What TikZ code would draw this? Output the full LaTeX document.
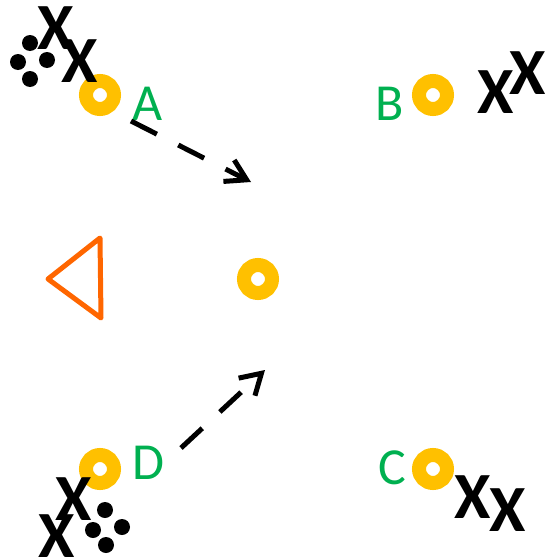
\documentclass[tikz,border=0pt]{standalone}
\usepackage{fontspec}
\setmainfont{Carlito}
\usepackage{tikz}
\usetikzlibrary{arrows.meta}
\usepackage{xcolor}
\definecolor{ringyellow}{RGB}{255,192,0}
\definecolor{labelgreen}{RGB}{0,176,80}
\definecolor{markorange}{RGB}{255,102,0}
\begin{document}
\begin{tikzpicture}[
    x=1pt, y=-1pt,
    ring/.style={circle, draw=ringyellow, line width=14pt, minimum size=28pt,
                 inner sep=0pt},
    lbl/.style={inner sep=0pt, text=labelgreen, font=\fontsize{52}{52}\selectfont},
    cross/.style={inner sep=0pt, font=\bfseries\fontsize{66}{66}\selectfont},
    dot/.style={circle, fill=black, minimum size=16pt, inner sep=0pt},
    arr/.style={-{Straight Barb[length=20pt, width=24pt, line width=5pt]},
                line width=5pt, dash pattern=on 29pt off 24pt}
]
\useasboundingbox (0,0) rectangle (544,557);
\node[ring] (A) at (100,95) {};
\node[ring] (B) at (433,95) {};
\node[ring] (C) at (433,469) {};
\node[ring] (D) at (100,469) {};
\node[ring] (O) at (258,279) {};
\node[lbl] (labA) at (148,104) {A};
\node[lbl] (labB) at (390,104) {B};
\node[lbl] (labC) at (392,468) {C};
\node[lbl] (labD) at (148,463) {D};
\node[cross] (xA1) at (56,28) {X};
\node[cross] (xA2) at (80,61) {X};
\node[cross] (xB1) at (496,92) {X};
\node[cross] (xB2) at (528,73) {X};
\node[cross] (xC1) at (473,497) {X};
\node[cross] (xC2) at (508,510) {X};
\node[cross] (xD1) at (74,499) {X};
\node[cross] (xD2) at (57,536) {X};
\node[dot] (dA1) at (30,43) {};
\node[dot] (dA2) at (18,62) {};
\node[dot] (dA3) at (47,60) {};
\node[dot] (dA4) at (30,79) {};
\node[dot] (dD1) at (105,510) {};
\node[dot] (dD2) at (93,530) {};
\node[dot] (dD3) at (122,527) {};
\node[dot] (dD4) at (106,545) {};
\draw[markorange, line width=5pt, line join=round]
    (100,238) -- (48,279) -- (101,318) -- cycle;
\coordinate (a1) at (131,121);
\coordinate (a2) at (251,182);
\coordinate (d1) at (181,448);
\coordinate (d2) at (265,370);
\draw[arr] (a1) -- (a2);
\draw[arr] (d1) -- (d2);
\end{tikzpicture}
\end{document}
